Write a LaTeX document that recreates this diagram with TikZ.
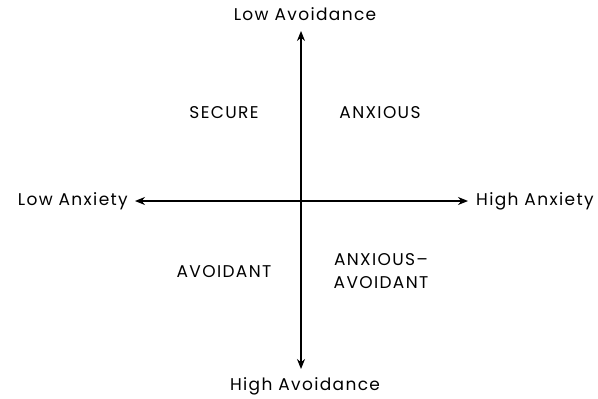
\documentclass[tikz,border=0pt]{standalone}
\usepackage{fontspec}
\setmainfont{Poppins}[LetterSpace=8]
\usetikzlibrary{arrows.meta}
\begin{document}
\begin{tikzpicture}[x=1pt,y=-1pt,
  lbl/.style={font=\fontsize{17}{23}\selectfont, inner sep=0pt, align=center},
  axis/.style={line width=1.2pt, {Stealth[length=10pt,width=8pt]}-{Stealth[length=10pt,width=8pt]}}]
\useasboundingbox (0,0) rectangle (598,399);
\node[lbl] (top) at (305,14) {Low Avoidance};
\node[lbl] (bot) at (305,386) {High Avoidance};
\node[lbl,anchor=east] (left) at (128,201) {Low Anxiety};
\node[lbl,anchor=west] (right) at (476,201) {High Anxiety};
\coordinate (t) at (301,31);
\coordinate (b) at (301,369);
\coordinate (l) at (135,201);
\coordinate (r) at (468,201);
\draw[axis] (t) -- (b);
\draw[axis] (l) -- (r);
\node[lbl] (secure) at (224,113) {SECURE};
\node[lbl] (anxious) at (380,113) {ANXIOUS};
\node[lbl] (avoidant) at (224,272) {AVOIDANT};
\node[lbl] (anxav) at (381,271) {ANXIOUS–\\AVOIDANT};
\end{tikzpicture}
\end{document}
